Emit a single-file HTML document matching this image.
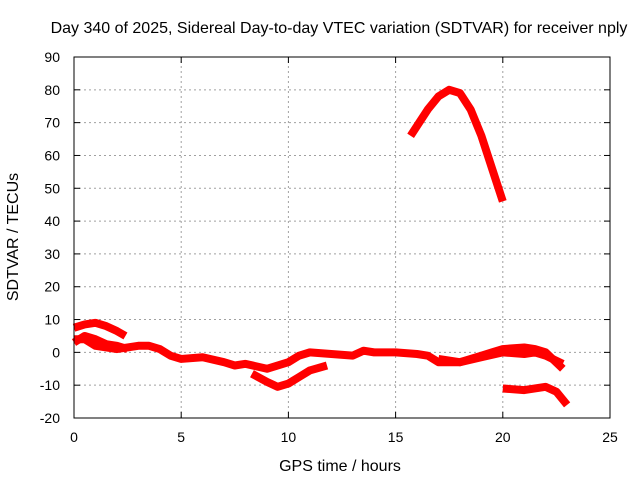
<!DOCTYPE html>
<html><head><meta charset="utf-8"><style>
body{margin:0;background:#fff;}
svg text{font-family:"Liberation Sans",sans-serif;font-size:14px;fill:#000;}
svg text.ttl{font-size:16px;}
</style></head><body>
<svg id="chart" width="640" height="480">
<rect x="0" y="0" width="640" height="480" fill="#fff"/>
<text class="ttl" x="339" y="33" text-anchor="middle">Day 340 of 2025, Sidereal Day-to-day VTEC variation (SDTVAR) for receiver nply</text>
<text class="ttl" x="340" y="471" text-anchor="middle">GPS time / hours</text>
<text class="ttl" x="18" y="237" text-anchor="middle" transform="rotate(-90 18 237)">SDTVAR / TECUs</text>
<g id="grid"></g><g id="series"></g><g id="axes"></g>
</svg>
<script>
const xTicks=[0,5,10,15,20,25];
const yTicks=[-20,-10,0,10,20,30,40,50,60,70,80,90];
const s1h=[0,0.5,1,1.5,2,2.4];
const s1v=[7.5,8.5,9,8,6.5,5];
const s2h=[0,0.5,1,1.5,2,2.5,3,3.5,4,4.5,5,6,7,7.5,8,9,10,10.5,11,12,13,13.5,14,15,16,16.5,17,18,19,20,21,21.5,22,22.8];
const s2v=[4,4,2,1.5,1,1.5,2,2,1,-1,-2,-1.5,-3,-4,-3.5,-5,-3,-1,0,-0.5,-1,0.5,0,0,-0.5,-1,-3,-3,-1.5,0,-0.5,0,-1,-3.5];
const s3h=[0,0.5,1,1.5,2,2.5];
const s3v=[3,5,4,2.5,2,1];
const s4h=[8.3,9,9.5,10,10.5,11,11.8];
const s4v=[-6.5,-9,-10.5,-9.5,-7.5,-5.5,-4];
const s5h=[17,18,19,19.5,20,21,21.5,22,22.8];
const s5v=[-2,-3,-1,0,1,1.5,1,0,-5];
const s6h=[20,21,22,22.5,23];
const s6v=[-11,-11.5,-10.5,-12,-16];
const s7h=[15.7,16,16.5,17,17.5,18,18.5,19,19.5,20];
const s7v=[66,69,74,78,80,79,74,66,56,46];
const X0=74,X1=610,Y0=418,Y1=57;
const xs=h=>X0+(h-0)/25*(X1-X0);
const ys=v=>Y0-(v+20)/110*(Y0-Y1);
const NS="http://www.w3.org/2000/svg";
const grid=document.getElementById('grid'),axes=document.getElementById('axes'),ser=document.getElementById('series');
function mk(t,a,p){const e=document.createElementNS(NS,t);for(const k in a)e.setAttribute(k,a[k]);p.appendChild(e);return e;}
xTicks.forEach(t=>{const x=xs(t);
 if(t>0&&t<25){const l=mk('line',{x1:x,x2:x,y1:Y0,y2:Y1,stroke:'#a0a0a0','stroke-dasharray':'2,3'},grid);
 
 }
 mk('line',{x1:x,x2:x,y1:Y0,y2:Y0-6,stroke:'#000'},axes);mk('line',{x1:x,x2:x,y1:Y1,y2:Y1+6,stroke:'#000'},axes);
 const tx=mk('text',{x:x,y:Y0+24,'text-anchor':'middle'},axes);tx.textContent=t;
 
 });
yTicks.forEach(t=>{const y=ys(t);
 if(t>-20&&t<90){const l=mk('line',{x1:X0,x2:X1,y1:y,y2:y,stroke:'#a0a0a0','stroke-dasharray':'2,3'},grid);
 
 }
 mk('line',{x1:X0,x2:X0+6,y1:y,y2:y,stroke:'#000'},axes);mk('line',{x1:X1,x2:X1-6,y1:y,y2:y,stroke:'#000'},axes);
 const tx=mk('text',{x:X0-14,y:y+5,'text-anchor':'end'},axes);tx.textContent=t;
 
 });
const fr=mk('rect',{x:X0,y:Y1,width:X1-X0,height:Y0-Y1,fill:'none',stroke:'#000'},axes);


[[s1h,s1v],[s2h,s2v],[s3h,s3v],[s4h,s4v],[s5h,s5v],[s6h,s6v],[s7h,s7v]].forEach((s,i)=>{
 const pts=s[0].map((h,j)=>xs(h)+','+ys(s[1][j])).join(' ');
 const p=mk('polyline',{points:pts,fill:'none',stroke:'#ff0000','stroke-width':8,'stroke-linejoin':'round'},ser);
 
 });
</script>
</body></html>
